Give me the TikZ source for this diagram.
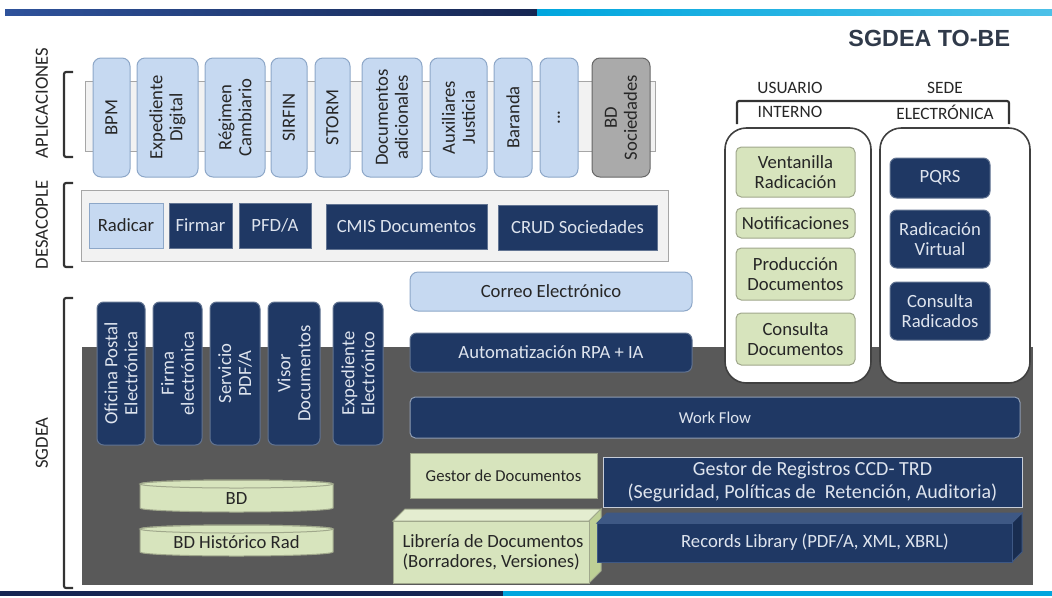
\documentclass[tikz,border=0pt]{standalone}
\usepackage{fontspec}
\setmainfont{Carlito}
\newfontfamily\titlefont{Liberation Sans}
\usepackage{xcolor}
\definecolor{navy}{RGB}{31,56,100}
\definecolor{navytop}{RGB}{62,88,132}
\definecolor{navytxt}{RGB}{222,228,238}
\definecolor{skyfill}{RGB}{198,217,241}
\definecolor{skyline}{RGB}{141,167,200}
\definecolor{leaf}{RGB}{215,228,189}
\definecolor{leaftop}{RGB}{228,237,208}
\definecolor{leafside}{RGB}{190,208,150}
\definecolor{leafline}{RGB}{160,168,140}
\definecolor{slate}{RGB}{89,89,89}
\definecolor{strip}{RGB}{242,242,242}
\definecolor{stripline}{RGB}{166,166,166}
\definecolor{dbfill}{RGB}{170,170,170}
\definecolor{inkgray}{RGB}{38,38,38}
\definecolor{titleink}{RGB}{48,58,74}
\definecolor{barleft}{RGB}{46,82,155}
\definecolor{bardark}{RGB}{22,38,82}
\definecolor{barlight}{RGB}{0,166,222}
\tikzset{every picture/.style={line width=0.75pt}}
\tikzset{
  navybox/.style={fill=navy,draw=navy!70!white,rounded corners=5pt},
  navysq/.style={fill=navy,draw=navy!70!white},
  skybox/.style={fill=skyfill,draw=skyline,rounded corners=6pt},
  skysq/.style={fill=skyfill,draw=skyline},
  leafbox/.style={fill=leaf,draw=leafline,rounded corners=4pt},
  leafsq/.style={fill=leaf,draw=leafline},
  panel/.style={fill=white,draw=black!75,line width=1.2pt,rounded corners=16pt},
  brace/.style={draw=black!80,line width=1.6pt,rounded corners=1.5pt},
  dark/.style={text=navytxt,align=center},
  lite/.style={text=inkgray,align=center},
  side/.style={text=inkgray,rotate=90,font=\fontsize{14}{16}\selectfont},
  head/.style={lite,font=\fontsize{13}{15}\selectfont}
}

\begin{document}
\begin{tikzpicture}[x=0.75pt,y=0.75pt,yscale=-1,xscale=1,font=\fontsize{14}{15}\selectfont]
\useasboundingbox (0,0) rectangle (1052,597);

%Bars top and bottom
\shade[left color=barleft,right color=bardark] (5,9) rectangle (537,15.5);
\shade[left color=barlight,right color=barlight!70!white] (537,9) rectangle (1052,15.5);
\fill[bardark] (0,591) rectangle (503,596);
\fill[barlight] (503,591) rectangle (1052,596);

% Text Node
\draw (1015,38) node[anchor=east,text=titleink,font=\titlefont\bfseries\fontsize{17.5}{19}\selectfont] (title) {SGDEA TO-BE};

%Side labels and brackets
\draw (42,103) node[side] (lapp) {APLICACIONES};
\draw (42,225) node[side] (ldes) {DESACOPLE};
\draw (42,443) node[side] (lsg) {SGDEA};
\draw[brace] (73,72) -- (64,72) -- (64,157) -- (73,157);
\draw[brace] (73,183) -- (64,183) -- (64,267) -- (73,267);
\draw[brace] (73,298) -- (64,298) -- (64,588) -- (73,588);

%Shape: Rectangle [aplicaciones strip]
\draw[fill=strip,draw=stripline] (85,81) rectangle (655,151);
\draw[skybox] (93,58) rectangle (130,177) node[midway,lite,rotate=90] (bpm) {BPM};
\draw[skybox] (137,58) rectangle (198,177) node[midway,lite,rotate=90] (expdig) {Expediente\\Digital};
\draw[skybox] (205,58) rectangle (265,177) node[midway,lite,rotate=90] (regimen) {Régimen\\Cambiario};
\draw[skybox] (271,58) rectangle (307,177) node[midway,lite,rotate=90] (sirfin) {SIRFIN};
\draw[skybox] (315,58) rectangle (350,177) node[midway,lite,rotate=90] (storm) {STORM};
\draw[skybox] (362,58) rectangle (422,177) node[midway,lite,rotate=90] (docad) {Documentos\\adicionales};
\draw[skybox] (430,58) rectangle (487,177) node[midway,lite,rotate=90] (aux) {Auxiliares\\Justicia};
\draw[skybox] (494,58) rectangle (532,177) node[midway,lite,rotate=90] (baranda) {Baranda};
\draw[skybox] (540,58) rectangle (578,177) node[midway,lite,rotate=90] (more) {...};
\draw[fill=dbfill,draw=black!60,rounded corners=6pt] (592,58) rectangle (650,177) node[midway,lite,rotate=90] (bdsoc) {BD\\Sociedades};

%Shape: Rectangle [desacople frame]
\draw[fill=strip,draw=stripline] (81,190) rectangle (668,261);
\draw[skysq] (89,203) rectangle (163,248) node[midway,lite] (radicar) {Radicar};
\draw[navysq] (169,203) rectangle (232,248) node[midway,dark] (firmar) {Firmar};
\draw[navysq] (239,203) rectangle (311,248) node[midway,dark] (pfda) {PFD/A};
\draw[navysq] (326,204) rectangle (487,249) node[midway,dark] (cmis) {CMIS Documentos};
\draw[navysq] (498,205) rectangle (657,250) node[midway,dark] (crud) {CRUD Sociedades};

%Shape: Rectangle [sgdea background]
\fill[slate] (82,347) rectangle (1033,585);

%Correo and RPA
\draw[skybox] (410,272) rectangle (692,311) node[midway,lite] (correo) {Correo Electrónico};
\draw[navybox] (410,333) rectangle (692,372) node[midway,dark] (rpa) {Automatización RPA + IA};

%Vertical services
\draw[navybox] (97,302) rectangle (145,445) node[midway,dark,rotate=90] (opostal) {Oficina Postal\\Electrónica};
\draw[navybox] (153,302) rectangle (202,445) node[midway,dark,rotate=90] (firma) {Firma\\electrónica};
\draw[navybox] (210,302) rectangle (260,445) node[midway,dark,rotate=90] (spdf) {Servicio\\PDF/A};
\draw[navybox] (268,302) rectangle (320,445) node[midway,dark,rotate=90] (visor) {Visor\\Documentos};
\draw[navybox] (333,302) rectangle (383,445) node[midway,dark,rotate=90] (expel) {Expediente\\Electrónico};

%Work flow and gestores
\draw[navybox,rounded corners=4pt,draw=navy!50!white] (410,397) rectangle (1020,438) node[midway,dark,font=\fontsize{12.5}{14}\selectfont] (wf) {Work Flow};
\draw[leafsq] (410,453) rectangle (597,498) node[midway,lite,font=\fontsize{12.5}{14}\selectfont] (gdoc) {Gestor de Documentos};
\draw[navysq,draw=white!75!navy] (603,457) rectangle (1022,507) node[midway,dark,font=\fontsize{15}{17}\selectfont] (greg) {Gestor de Registros CCD- TRD\\(Seguridad, Políticas de \ Retención, Auditoria)};

%Shape: 3D boxes
\draw[fill=leaftop,draw=leafline] (393,521) -- (405,509) -- (601,509) -- (589,521) -- cycle;
\draw[fill=leafside,draw=leafline] (589,521) -- (601,509) -- (601,571) -- (589,583) -- cycle;
\draw[leafsq] (393,521) rectangle (589,583);
\draw (493,552) node[lite,align=left] (libreria) {Librería de Documentos\\(Borradores, Versiones)};
\draw[fill=navytop,draw=navytop] (597,523) -- (607,513) -- (1022,513) -- (1012,523) -- cycle;
\draw[fill=navy!80!black,draw=navytop] (1012,523) -- (1022,513) -- (1022,552) -- (1012,562) -- cycle;
\draw[navysq,draw=navytop] (597,523) rectangle (1012,562);
\draw (815,542.5) node[dark] (records) {Records Library (PDF/A, XML, XBRL)};

%Shape: BD discs
\draw[leafsq] (140,484) -- (140,508) arc[start angle=180,end angle=0,x radius=96.5,y radius=4] -- (333,484) arc[start angle=0,end angle=-180,x radius=96.5,y radius=4] -- cycle;
\draw[leafline] (236.5,484) ellipse [x radius=96.5,y radius=4];
\draw (236.5,498) node[lite] (bd) {BD};
\draw[leafsq] (140,529) -- (140,552) arc[start angle=180,end angle=0,x radius=96.5,y radius=4] -- (333,529) arc[start angle=0,end angle=-180,x radius=96.5,y radius=4] -- cycle;
\draw[leafline] (236.5,529) ellipse [x radius=96.5,y radius=4];
\draw (236.5,542) node[lite] (bdhist) {BD Histórico Rad};

%Right panels
\draw (790,88) node[head] (usuario) {USUARIO};
\draw (790,112) node[head] (interno) {INTERNO};
\draw (945,88) node[head] (sede) {SEDE};
\draw (945,112) node[head] (electronica) {ELECTRÓNICA};
\draw[brace] (737,124) -- (737,101) -- (1009,101) -- (1009,124);
\draw[panel] (725,128) rectangle (871,383);
\draw[panel] (880,128) rectangle (1030,383);
\draw[leafbox] (736,147) rectangle (855,197) node[midway,lite] (ventanilla) {Ventanilla\\Radicación};
\draw[leafbox] (736,208) rectangle (855,238) node[midway,lite] (notif) {Notificaciones};
\draw[leafbox] (736,248) rectangle (855,300) node[midway,lite] (produccion) {Producción\\Documentos};
\draw[leafbox] (736,313) rectangle (855,365) node[midway,lite] (consdoc) {Consulta\\Documentos};
\draw[navybox] (890,158) rectangle (990,198) node[midway,dark] (pqrs) {PQRS};
\draw[navybox] (890,210) rectangle (990,268) node[midway,dark] (radvirt) {Radicación\\Virtual};
\draw[navybox] (890,282) rectangle (990,340) node[midway,dark] (consrad) {Consulta\\Radicados};

\end{tikzpicture}
\end{document}
